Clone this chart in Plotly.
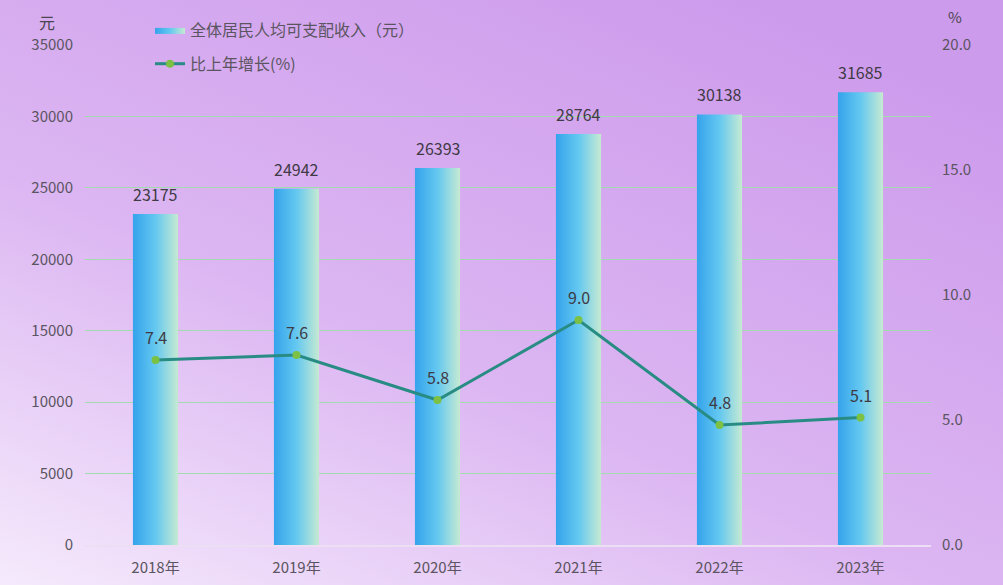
import plotly.graph_objects as go

# data
years = ["2018年", "2019年", "2020年", "2021年", "2022年", "2023年"]
income = [23175, 24942, 26393, 28764, 30138, 31685]
growth = [7.4, 7.6, 5.8, 9.0, 4.8, 5.1]

W, H = 1003, 585
ML, MR, MT, MB = 85, 72, 45, 40
FONT = "Noto Sans CJK SC, Noto Sans, sans-serif"
TICK_COLOR = "#5a5560"
LABEL_COLOR = "#3f3a45"

bar_half = 0.16
bar_scale = [[0, "#35a3ec"], [0.5, "#64c8f0"], [1, "#c6ead2"]]

fig = go.Figure()

# bars drawn as filled rectangles so each one can carry a horizontal gradient
for i, v in enumerate(income):
    fig.add_trace(go.Scatter(
        x=[i - bar_half, i - bar_half, i + bar_half, i + bar_half, i - bar_half],
        y=[0, v, v, 0, 0],
        mode="lines", line=dict(width=0),
        fill="toself",
        fillgradient=dict(type="horizontal", colorscale=bar_scale),
        name="全体居民人均可支配收入（元）",
        legendgroup="income", showlegend=(i == 0),
        hoverinfo="skip",
    ))

# growth line on the right axis
fig.add_trace(go.Scatter(
    x=list(range(len(years))), y=growth, yaxis="y2",
    mode="lines+markers",
    line=dict(color="#288c84", width=3),
    marker=dict(color="#7cc143", size=8),
    name="比上年增长(%)", legendgroup="growth",
))

# value labels
labels = []
for i, v in enumerate(income):
    labels.append(dict(x=i, y=v, xref="x", yref="y", text=str(v),
                       showarrow=False, yanchor="bottom", yshift=6,
                       font=dict(size=16, color=LABEL_COLOR)))
for i, g in enumerate(growth):
    labels.append(dict(x=i, y=g, xref="x", yref="y2", text=f"{g:.1f}",
                       showarrow=False, yanchor="bottom", yshift=9,
                       font=dict(size=16, color=LABEL_COLOR)))

bg_svg = (
    "data:image/svg+xml;utf8,"
    "<svg xmlns='http://www.w3.org/2000/svg' width='1003' height='585'>"
    "<defs><linearGradient id='g' x1='0' y1='1' x2='0.75' y2='0'>"
    "<stop offset='0' stop-color='%23f5eafc'/>"
    "<stop offset='0.45' stop-color='%23dcb6f2'/>"
    "<stop offset='1' stop-color='%23cd9bec'/>"
    "</linearGradient></defs>"
    "<rect width='1003' height='585' fill='url(%23g)'/></svg>"
)
pw, ph = W - ML - MR, H - MT - MB

fig.update_layout(
    width=W, height=H,
    margin=dict(l=ML, r=MR, t=MT, b=MB, autoexpand=False),
    paper_bgcolor="#d8b2f0", plot_bgcolor="rgba(0,0,0,0)",
    font=dict(family=FONT, color=TICK_COLOR, size=15),
    images=[dict(
        source=bg_svg, xref="paper", yref="paper",
        x=-ML / pw, y=1 + MT / ph, sizex=W / pw, sizey=H / ph,
        sizing="stretch", xanchor="left", yanchor="top", layer="below",
    )],
    xaxis=dict(
        range=[-0.5, 5.5], tickmode="array",
        tickvals=list(range(len(years))), ticktext=years,
        showgrid=False, zeroline=False, automargin=False,
        showline=True, linecolor="#ecdff4", linewidth=1.5,
        tickfont=dict(size=15, color=TICK_COLOR), ticklabelstandoff=8,
    ),
    yaxis=dict(
        range=[0, 35000], dtick=5000, tickformat="d",
        showgrid=True, gridcolor="#a2dcae", gridwidth=1,
        zeroline=False, showline=False, automargin=False,
        tickfont=dict(size=15, color=TICK_COLOR), ticklabelstandoff=11,
    ),
    yaxis2=dict(
        range=[0, 20], dtick=5, tickformat=".1f",
        overlaying="y", side="right",
        showgrid=False, zeroline=False, showline=False, automargin=False,
        tickfont=dict(size=15, color=TICK_COLOR), ticklabelstandoff=10,
    ),
    legend=dict(
        x=(150 - ML) / pw, y=1 + (MT - 13) / ph, xanchor="left", yanchor="top",
        bgcolor="rgba(0,0,0,0)", font=dict(size=16, color=TICK_COLOR),
        tracegroupgap=10, traceorder="grouped",
    ),
    annotations=labels + [
        dict(text="元", xref="paper", yref="paper", x=-38 / pw, y=1 + 23 / ph,
             xanchor="center", yanchor="middle",
             showarrow=False, font=dict(size=16, color="#4a4550")),
        dict(text="%", xref="paper", yref="paper", x=1 + 24 / pw, y=1 + 28 / ph,
             xanchor="center", yanchor="middle",
             showarrow=False, font=dict(size=15, color="#4a4550")),
    ],
)

# drop the browser's default body margin so the figure sits at the page corner
fig.write_html("out.html", config={"displayModeBar": False},
               post_script="document.body.style.margin='0';")
